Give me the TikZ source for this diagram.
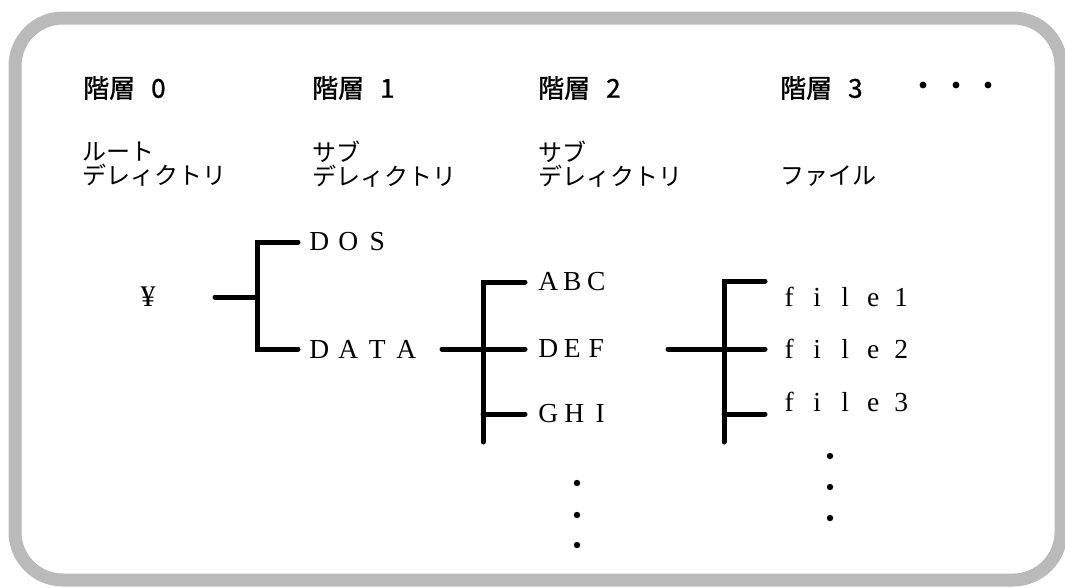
\documentclass[tikz,border=0pt]{standalone}
\usepackage{fontspec}
\setmainfont{Liberation Serif}
\newfontfamily\jp{Noto Sans CJK JP}
\newfontfamily\jph[FakeBold=1.2]{Noto Sans CJK JP}
\makeatletter
\newcommand\spacedtext[2]{\@tfor\sp@cchar:=#2\do{\makebox[#1]{\sp@cchar}}}
\makeatother
\begin{document}
\begin{tikzpicture}[x=1pt,y=-1pt,
  frame/.style={draw=black!27,line width=13pt,rounded corners=48pt},
  head/.style={anchor=west,inner sep=0pt,font=\jph\fontsize{26}{26}\selectfont},
  sub/.style={anchor=west,inner sep=0pt,align=left,font=\jp\fontsize{24}{24}\selectfont},
  lab/.style={anchor=west,inner sep=0pt,font=\fontsize{27.5}{27.5}\selectfont},
  br/.style={line width=5pt,line cap=round,line join=miter},
  dot/.style={fill=black}]
\useasboundingbox (0,0) rectangle (1065,587);
\draw[frame] (15,18) rectangle (1061,580);

% headings
\node[head] (h0) at (83,88) {階層\hspace{16pt}0};
\node[head] (h1) at (312,88) {階層\hspace{16pt}1};
\node[head] (h2) at (538,88) {階層\hspace{16pt}2};
\node[head] (h3) at (780,88) {階層\hspace{16pt}3};
\fill[dot] (923,85) circle (3.4pt);
\fill[dot] (956,85) circle (3.4pt);
\fill[dot] (988,85) circle (3.4pt);

% sub headings
\node[sub] (s0) at (82,164) {ルート\\デレィクトリ};
\node[sub] (s1) at (312,164) {サブ\\デレィクトリ};
\node[sub] (s2) at (538,164) {サブ\\デレィクトリ};
\node[sub] (s3) at (780,176) {ファイル};

% labels
\node[lab,anchor=center,font=\fontsize{30}{30}\selectfont] (root) at (148,297) {¥};
\node[lab] (dos) at (304.5,242) {\spacedtext{29pt}{DOS}};
\node[lab] (data) at (304.5,349) {\spacedtext{29pt}{DATA}};
\node[lab] (abc) at (536,282) {\spacedtext{24pt}{ABC}};
\node[lab] (def) at (536,349) {\spacedtext{24pt}{DEF}};
\node[lab] (ghi) at (535,414) {\spacedtext{26pt}{GHI}};
\node[lab] (f1) at (775,297) {\spacedtext{28pt}{file1}};
\node[lab] (f2) at (775,349) {\spacedtext{28pt}{file2}};
\node[lab] (f3) at (775,402) {\spacedtext{28pt}{file3}};

% connector helper points
\coordinate (r0) at (215,297);
\coordinate (j0) at (257,297);
\coordinate (e0) at (298,0);
\coordinate (s1a) at (442,349);
\coordinate (v1b) at (483,442);
\coordinate (e1) at (525,0);
\coordinate (s2a) at (668,349);
\coordinate (v2b) at (724,442);
\coordinate (b2a) at (765,281);
\coordinate (b2c) at (765,414);
\coordinate (e2) at (765,0);

% level 0 -> 1
\draw[br] (r0) -- (j0);
\draw[br] (dos.west -| e0) -| (j0) |- (data.west -| e0);
% level 1 -> 2
\draw[br] (abc.west -| e1) -| (v1b);
\draw[br] (s1a) -- (def.west -| e1);
\draw[br] (ghi.west -| v1b) -- (ghi.west -| e1);
% level 2 -> 3
\draw[br] (b2a) -| (v2b);
\draw[br] (s2a) -- (f2.west -| e2);
\draw[br] (b2c -| v2b) -- (b2c);

% continuation dots
\fill[dot] (577,483) circle (3.2pt);
\fill[dot] (577,515) circle (3.2pt);
\fill[dot] (577,545) circle (3.2pt);
\fill[dot] (830,456) circle (3.2pt);
\fill[dot] (830,487) circle (3.2pt);
\fill[dot] (830,518) circle (3.2pt);
\end{tikzpicture}
\end{document}
